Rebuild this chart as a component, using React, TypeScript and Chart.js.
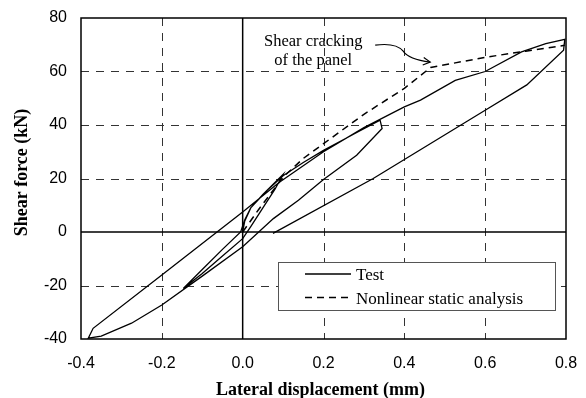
import React, { useEffect, useRef } from 'react';
import { Chart, registerables } from 'chart.js';

Chart.register(...registerables);

// ---- data ----
const testX = [
  0, 0.005, 0.02, 0.05, 0.1,
  0.08, 0.05, 0.02, 0, -0.05, -0.1, -0.147,
  -0.1, -0.05, -0.005, 0.005, 0.02, 0.06, 0.1,
  0.15, 0.2, 0.28, 0.34,
  0.345, 0.282, 0.2, 0.138, 0.076, 0, -0.1, -0.2, -0.275, -0.35, -0.382,
  -0.37, -0.2, 0, 0.09, 0.2, 0.3, 0.4, 0.44, 0.526, 0.6, 0.69, 0.75, 0.797,
  0.794, 0.703, 0.6, 0.323, 0.075,
];
const testY = [
  0, 4, 9, 14, 21.5,
  16, 9, 2, -2.5, -9, -15.5, -21.1,
  -14, -6.5, 0, 4.5, 9, 15.5, 21,
  26, 30.5, 37, 41.8,
  38.7, 28.7, 19.6, 11.9, 5, -5.5, -16.5, -27.3, -34.1, -38.9, -39.7,
  -36, -16.1, 7.5, 18.5, 30, 39, 46.8, 49.3, 56.7, 60, 67.3, 70.4, 72,
  68, 55, 45.5, 20, -0.5,
];
const analysisX = [0, 0.04, 0.1, 0.15, 0.2, 0.3, 0.4, 0.465, 0.6, 0.7, 0.797];
const analysisY = [0, 8.5, 20.5, 27.5, 33, 44, 53.7, 61.5, 65.3, 67.6, 69.8];

const xTickValues = [-0.4, -0.2, 0, 0.2, 0.4, 0.6, 0.8];
const yTickValues = [-40, -20, 0, 20, 40, 60, 80];
const seriesNames = ['Test', 'Nonlinear static analysis'];
const xTitle = 'Lateral displacement (mm)';
const yTitle = 'Shear force (kN)';
const annotationLines = ['Shear cracking', 'of the panel'];
const annotationPoint = { x: 0.464, y: 63.5 };

const SERIF = '"Liberation Serif", "Times New Roman", Times, serif';
const SANS = '"Liberation Sans", Arial, Helvetica, sans-serif';

const gridPlugin = {
  id: 'gridFrame',
  beforeDatasetsDraw(chart: any) {
    const { ctx, chartArea: a, scales } = chart;
    const xs = scales.x;
    const ys = scales.y;
    ctx.save();
    ctx.lineWidth = 1;
    ctx.strokeStyle = '#333';
    ctx.setLineDash([8, 7]);
    xTickValues.forEach((v) => {
      if (v === 0 || v === xs.min || v === xs.max) return;
      const px = Math.round(xs.getPixelForValue(v)) + 0.5;
      ctx.beginPath();
      ctx.moveTo(px, a.top);
      ctx.lineTo(px, a.bottom);
      ctx.stroke();
    });
    yTickValues.forEach((v) => {
      if (v === 0 || v === ys.min || v === ys.max) return;
      const py = Math.round(ys.getPixelForValue(v)) + 0.5;
      ctx.beginPath();
      ctx.moveTo(a.left, py);
      ctx.lineTo(a.right, py);
      ctx.stroke();
    });
    ctx.setLineDash([]);
    ctx.strokeStyle = '#000';
    ctx.lineWidth = 1.5;
    const x0 = xs.getPixelForValue(0);
    const y0 = ys.getPixelForValue(0);
    ctx.beginPath();
    ctx.moveTo(x0, a.top);
    ctx.lineTo(x0, a.bottom);
    ctx.moveTo(a.left, y0);
    ctx.lineTo(a.right, y0);
    ctx.stroke();
    ctx.restore();
  },
  afterDatasetsDraw(chart: any) {
    const { ctx, chartArea: a, scales } = chart;
    const xs = scales.x;
    const ys = scales.y;
    ctx.save();
    // frame
    ctx.strokeStyle = '#000';
    ctx.lineWidth = 1.5;
    ctx.strokeRect(a.left, a.top, a.right - a.left, a.bottom - a.top);

    // legend
    const lw = 277;
    const lh = 48;
    const lx = a.right - 11 - lw;
    const ly = a.bottom - 29 - lh;
    ctx.fillStyle = '#fff';
    ctx.fillRect(lx, ly, lw, lh);
    ctx.strokeStyle = '#555';
    ctx.lineWidth = 1;
    ctx.strokeRect(Math.round(lx) + 0.5, Math.round(ly) + 0.5, lw, lh);
    const ds = chart.data.datasets;
    ds.forEach((d: any, i: number) => {
      const rowY = ly + 12 + i * 23.5;
      ctx.strokeStyle = '#000';
      ctx.lineWidth = d.borderWidth;
      ctx.setLineDash(d.borderDash || []);
      ctx.beginPath();
      ctx.moveTo(lx + 27, rowY);
      ctx.lineTo(lx + 73, rowY);
      ctx.stroke();
      ctx.setLineDash([]);
      ctx.fillStyle = '#000';
      ctx.font = '17px ' + SERIF;
      ctx.textAlign = 'left';
      ctx.textBaseline = 'alphabetic';
      ctx.fillText(d.label, lx + 78, rowY + 6.2);
    });

    // annotation
    const tx = xs.getPixelForValue(annotationPoint.x);
    const ty = ys.getPixelForValue(annotationPoint.y);
    ctx.fillStyle = '#000';
    ctx.font = '16.5px ' + SERIF;
    ctx.textAlign = 'center';
    ctx.textBaseline = 'alphabetic';
    ctx.fillText(annotationLines[0], tx - 117, ty - 16.5);
    ctx.fillText(annotationLines[1], tx - 117, ty + 3);
    ctx.strokeStyle = '#000';
    ctx.lineWidth = 1.2;
    ctx.beginPath();
    ctx.moveTo(tx - 55, ty - 17);
    ctx.bezierCurveTo(tx - 40, ty - 19, tx - 32, ty - 17, tx - 27, ty - 11);
    ctx.bezierCurveTo(tx - 23, ty - 5, tx - 15, ty - 2, tx, ty);
    ctx.stroke();
    const ang = Math.atan2(2, 15);
    ctx.beginPath();
    ctx.moveTo(tx - 8 * Math.cos(ang - 0.5), ty - 8 * Math.sin(ang - 0.5));
    ctx.lineTo(tx, ty);
    ctx.lineTo(tx - 8 * Math.cos(ang + 0.5), ty - 8 * Math.sin(ang + 0.5));
    ctx.stroke();

    // axis titles
    ctx.font = 'bold 18px ' + SERIF;
    ctx.textAlign = 'center';
    ctx.textBaseline = 'alphabetic';
    ctx.fillText(xTitle, (a.left + a.right) / 2 - 3, 395);
    ctx.save();
    ctx.translate(27, (a.top + a.bottom) / 2 - 6);
    ctx.rotate(-Math.PI / 2);
    ctx.fillText(yTitle, 0, 0);
    ctx.restore();
    ctx.restore();
  },
};

export default function App() {
  const ref = useRef<HTMLCanvasElement>(null);
  useEffect(() => {
    const canvas = ref.current;
    if (!canvas) return;
    const chart = new Chart(canvas, {
      type: 'scatter',
      data: {
        datasets: [
          {
            label: seriesNames[0],
            data: testX.map((x, i) => ({ x, y: testY[i] })),
            showLine: true,
            borderColor: '#000',
            backgroundColor: '#000',
            borderWidth: 1.3,
            pointRadius: 0,
            tension: 0,
            fill: false,
          },
          {
            label: seriesNames[1],
            data: analysisX.map((x, i) => ({ x, y: analysisY[i] })),
            showLine: true,
            borderColor: '#000',
            backgroundColor: '#000',
            borderWidth: 1.5,
            borderDash: [7, 5],
            pointRadius: 0,
            tension: 0,
            fill: false,
          },
        ],
      } as any,
      options: {
        responsive: false,
        animation: false,
        devicePixelRatio: 1,
        layout: { padding: { top: 18, right: 20, left: 0, bottom: 0 } },
        plugins: { legend: { display: false }, tooltip: { enabled: false } },
        scales: {
          x: {
            type: 'linear',
            min: -0.4,
            max: 0.8,
            afterBuildTicks: (s: any) => {
              s.ticks = xTickValues.map((v) => ({ value: v }));
            },
            ticks: {
              callback: (v: any) => Number(v).toFixed(1),
              font: { family: SANS, size: 16 },
              color: '#000',
              padding: 15,
              maxRotation: 0,
              autoSkip: false,
            },
            grid: { display: false, drawTicks: false },
            border: { display: false },
            afterFit: (s: any) => {
              s.height = 59;
              s.paddingLeft = 0;
              s.paddingRight = 0;
            },
          },
          y: {
            type: 'linear',
            min: -40,
            max: 80,
            afterBuildTicks: (s: any) => {
              s.ticks = yTickValues.map((v) => ({ value: v }));
            },
            ticks: {
              callback: (v: any) => String(v),
              font: { family: SANS, size: 16 },
              color: '#000',
              padding: 14,
              autoSkip: false,
            },
            grid: { display: false, drawTicks: false },
            border: { display: false },
            afterFit: (s: any) => {
              s.width = 81;
              s.paddingTop = 0;
              s.paddingBottom = 0;
            },
          },
        },
      } as any,
      plugins: [gridPlugin],
    });
    return () => chart.destroy();
  }, []);
  return (
    <div style={{ position: 'absolute', left: 0, top: 0, width: 586, height: 398, background: '#fff' }}>
      <canvas ref={ref} width={586} height={398} style={{ display: 'block', width: 586, height: 398 }} />
    </div>
  );
}
